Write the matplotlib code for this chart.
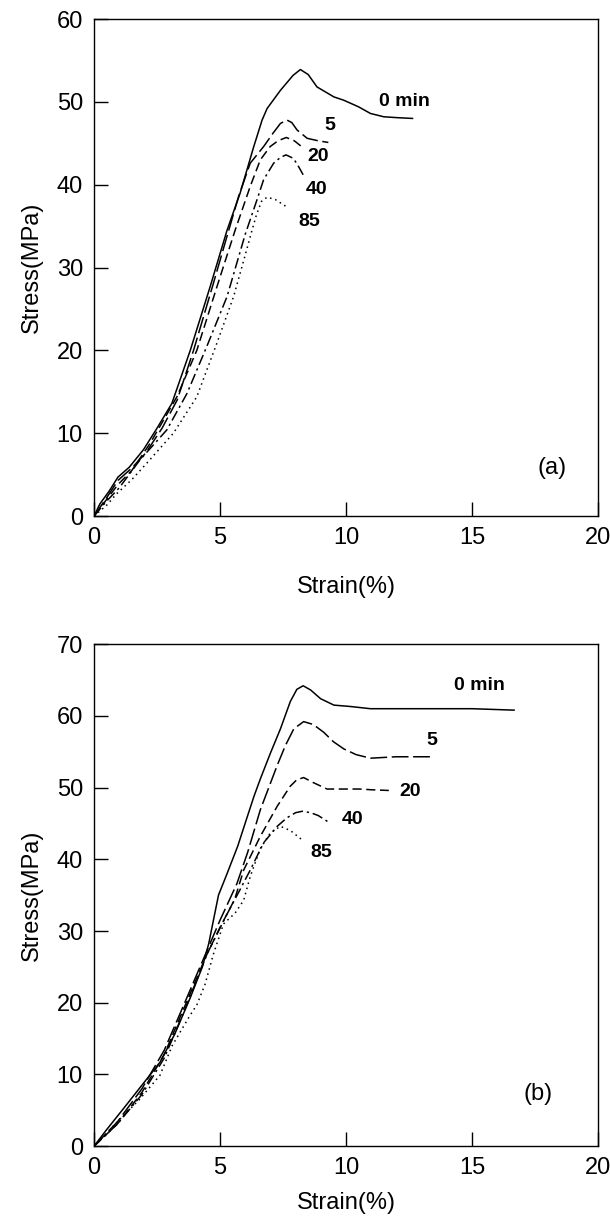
import matplotlib
matplotlib.use("Agg")
import matplotlib.pyplot as plt

plt.rcParams['font.family'] = ['Liberation Sans', 'DejaVu Sans']

# ---------------- Panel (a) data ----------------
curve_labels = ["0 min", "5", "20", "40", "85"]

a_0_x = [0, 0.24, 0.6, 0.95, 1.4, 1.96, 2.5, 3.09, 3.82, 4.61, 5.28, 5.8, 6.34, 6.67, 6.87, 7.4, 7.9, 8.19, 8.5, 8.85, 9.52, 9.91, 10.5, 10.97, 11.5, 12.0, 12.64]
a_0_y = [0, 1.5, 3.0, 4.7, 5.9, 8.0, 10.6, 13.6, 20.0, 27.7, 34.5, 39.0, 44.6, 47.8, 49.2, 51.4, 53.2, 53.9, 53.3, 51.8, 50.6, 50.2, 49.4, 48.6, 48.2, 48.1, 48.0]
a_5_x = [0, 0.5, 0.95, 1.5, 2.05, 2.7, 3.3, 3.95, 4.7, 5.28, 5.74, 6.2, 6.73, 7.1, 7.4, 7.66, 7.85, 8.06, 8.46, 8.9, 9.3]
a_5_y = [0, 2.2, 4.3, 5.8, 7.6, 10.6, 14.0, 20.0, 27.7, 33.8, 38.6, 42.6, 44.6, 46.2, 47.4, 47.8, 47.5, 46.6, 45.6, 45.3, 45.1]
a_20_x = [0, 0.5, 0.95, 1.5, 2.23, 2.8, 3.29, 4.08, 4.88, 5.6, 6.2, 6.6, 6.99, 7.3, 7.63, 7.95, 8.32]
a_20_y = [0, 2.0, 3.8, 5.5, 8.8, 11.8, 14.4, 20.0, 27.7, 34.5, 39.8, 43.0, 44.6, 45.3, 45.7, 45.3, 44.4]
a_40_x = [0, 0.5, 1.0, 1.83, 2.89, 3.69, 4.48, 5.28, 6.0, 6.47, 6.73, 7.13, 7.4, 7.62, 7.9, 8.06, 8.3]
a_40_y = [0, 1.8, 3.4, 6.8, 10.4, 14.8, 20.5, 26.5, 34.0, 38.2, 40.6, 42.6, 43.3, 43.6, 43.2, 42.5, 41.2]
a_85_x = [0, 0.5, 0.9, 1.5, 2.1, 3.15, 4.08, 4.88, 5.54, 6.0, 6.27, 6.45, 6.65, 6.87, 7.2, 7.66]
a_85_y = [0, 1.3, 2.7, 4.4, 6.4, 10.0, 14.4, 20.9, 26.5, 31.5, 34.5, 36.4, 38.0, 38.5, 38.2, 37.3]

# ---------------- Panel (b) data ----------------
b_0_x = [0, 0.5, 1.16, 1.9, 2.62, 3.2, 3.82, 4.3, 4.55, 4.94, 5.28, 5.7, 6.07, 6.35, 6.6, 7.0, 7.4, 7.79, 8.05, 8.3, 8.6, 8.99, 9.52, 10.2, 10.97, 12.0, 13.33, 15.0, 16.67]
b_0_y = [0, 2.3, 5.2, 8.5, 11.7, 15.6, 20.7, 25.0, 28.2, 35.0, 38.0, 41.8, 45.8, 48.8, 51.2, 54.8, 58.2, 62.0, 63.7, 64.2, 63.6, 62.4, 61.5, 61.3, 61.0, 61.0, 61.0, 61.0, 60.8]
b_5_x = [0, 0.93, 1.9, 2.79, 3.6, 4.5, 5.0, 5.67, 6.1, 6.6, 7.27, 7.6, 7.93, 8.32, 8.7, 9.12, 9.5, 9.91, 10.4, 10.97, 12.0, 13.33]
b_5_y = [0, 3.4, 8.0, 13.4, 20.0, 27.4, 31.5, 36.6, 41.0, 46.9, 53.1, 55.9, 58.2, 59.2, 58.8, 57.7, 56.4, 55.4, 54.6, 54.1, 54.3, 54.3]
b_20_x = [0, 0.93, 1.9, 2.79, 3.6, 4.5, 5.0, 5.58, 5.94, 6.6, 7.27, 7.79, 8.05, 8.32, 8.7, 9.25, 9.8, 10.54, 11.0, 11.7]
b_20_y = [0, 3.1, 7.5, 12.8, 19.5, 26.9, 30.5, 34.4, 38.5, 43.2, 47.4, 50.2, 51.1, 51.4, 50.7, 49.8, 49.8, 49.8, 49.7, 49.6]
b_40_x = [0, 0.93, 1.9, 2.79, 3.6, 4.5, 5.27, 5.8, 6.2, 6.73, 7.27, 7.66, 8.0, 8.26, 8.6, 8.9, 9.3]
b_40_y = [0, 3.1, 7.2, 12.3, 19.0, 26.9, 32.3, 35.8, 38.5, 42.3, 44.6, 45.8, 46.5, 46.7, 46.5, 46.1, 45.2]
b_85_x = [0, 0.9, 1.8, 2.62, 3.1, 3.82, 4.08, 4.4, 4.74, 5.14, 5.6, 5.94, 6.2, 6.6, 7.0, 7.4, 7.8, 8.26]
b_85_y = [0, 3.3, 6.5, 9.9, 14.0, 18.3, 19.7, 22.5, 26.8, 31.0, 32.5, 34.3, 37.6, 41.5, 43.7, 44.6, 44.0, 42.7]

a_label_pos = [(11.3, 50.0), (9.15, 47.1), (8.46, 43.4), (8.39, 39.4), (8.12, 35.5)]
b_label_pos = [(14.3, 64.2), (13.2, 56.5), (12.1, 49.5), (9.85, 45.6), (8.59, 41.0)]

styles = [
    dict(linestyle='-'),
    dict(linestyle=(0, (11, 3))),
    dict(linestyle=(0, (6, 3))),
    dict(linestyle=(0, (7, 2.5, 1.5, 2.5))),
    dict(linestyle=(0, (1, 2.5))),
]

fig = plt.figure(figsize=(6.1, 12.2), dpi=100)
ax1 = fig.add_axes([0.1541, 0.577, 0.8262, 0.4074])
ax2 = fig.add_axes([0.1541, 0.0605, 0.8262, 0.4115])

def setup(ax, ymax, ystep, tag, tagpos, xpad):
    ax.set_xlim(0, 20)
    ax.set_ylim(0, ymax)
    ax.set_xticks(range(0, 21, 5))
    ax.set_yticks(range(0, ymax + 1, ystep))
    ax.tick_params(direction='in', length=10, width=1, labelsize=17, pad=8,
                   top=False, right=False)
    for s in ax.spines.values():
        s.set_linewidth(1)
    ax.set_xlabel('Strain(%)', fontsize=17, labelpad=xpad)
    ax.set_ylabel('Stress(MPa)', fontsize=17, labelpad=10)
    ax.text(tagpos[0], tagpos[1], tag, fontsize=17, ha='left', va='center')

a_series = [(a_0_x, a_0_y), (a_5_x, a_5_y), (a_20_x, a_20_y), (a_40_x, a_40_y), (a_85_x, a_85_y)]
b_series = [(b_0_x, b_0_y), (b_5_x, b_5_y), (b_20_x, b_20_y), (b_40_x, b_40_y), (b_85_x, b_85_y)]

for (x, y), st in zip(a_series, styles):
    ax1.plot(x, y, color='black', lw=1.1, **st)
for (x, y), st in zip(b_series, styles):
    ax2.plot(x, y, color='black', lw=1.1, **st)

for lab, (px, py) in zip(curve_labels, a_label_pos):
    ax1.text(px, py, lab, fontsize=14, fontweight='bold', ha='left', va='center')
for lab, (px, py) in zip(curve_labels, b_label_pos):
    ax2.text(px, py, lab, fontsize=14, fontweight='bold', ha='left', va='center')

setup(ax1, 60, 10, '(a)', (17.6, 5.8), 19)
setup(ax2, 70, 10, '(b)', (17.05, 7.3), 9)

fig.savefig('out.png', dpi=100)
